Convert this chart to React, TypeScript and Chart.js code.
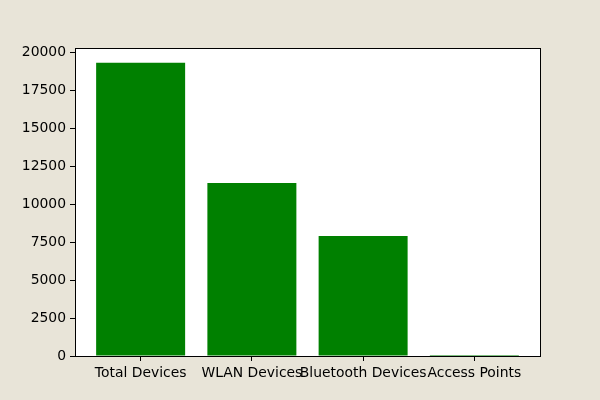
import React, { useEffect, useRef } from "react";
import { Chart, registerables } from "chart.js";

Chart.register(...registerables);

const categories = ["Total Devices", "WLAN Devices", "Bluetooth Devices", "Access Points"];
const counts = [19340, 11400, 7910, 60];
const yTicks = [0, 2500, 5000, 7500, 10000, 12500, 15000, 17500, 20000];

const frame = {
  id: "frame",
  afterDraw(chart: any) {
    const { ctx, chartArea } = chart;
    ctx.save();
    ctx.strokeStyle = "#000";
    ctx.lineWidth = 1;
    ctx.strokeRect(
      Math.round(chartArea.left) + 0.5,
      Math.round(chartArea.top) + 0.5,
      Math.round(chartArea.right - chartArea.left),
      Math.round(chartArea.bottom - chartArea.top)
    );
    ctx.restore();
  },
};

const plotBg = {
  id: "plotBg",
  beforeDraw(chart: any) {
    const { ctx, chartArea } = chart;
    ctx.save();
    ctx.fillStyle = "#e8e4d8";
    ctx.fillRect(0, 0, chart.width, chart.height);
    ctx.fillStyle = "#ffffff";
    ctx.fillRect(chartArea.left, chartArea.top, chartArea.right - chartArea.left, chartArea.bottom - chartArea.top);
    ctx.restore();
  },
};

export default function App() {
  const ref = useRef<HTMLCanvasElement | null>(null);
  useEffect(() => {
    document.body.style.margin = "0";
    document.body.style.background = "#e8e4d8";
    const maxV = Math.max(...counts);
    const font = { family: "DejaVu Sans", size: 13.9 };
    const chart = new Chart(ref.current!, {
      type: "bar",
      data: {
        datasets: [
          {
            data: counts.map((v, i) => ({ x: i, y: v })),
            backgroundColor: "#008000",
            borderWidth: 0,
            categoryPercentage: 1,
            barPercentage: 0.8,
          },
        ],
      },
      options: {
        animation: false,
        responsive: false,
        layout: { padding: { left: 0, top: 48, right: 60, bottom: 0 } },
        plugins: { legend: { display: false }, tooltip: { enabled: false } },
        scales: {
          x: {
            type: "linear",
            offset: false,
            min: -0.59,
            max: categories.length - 1 + 0.59,
            afterBuildTicks: (axis: any) => {
              axis.ticks = categories.map((_, i) => ({ value: i }));
            },
            afterFit: (axis: any) => {
              axis.height = 44;
            },
            grid: { offset: false, drawOnChartArea: false, drawTicks: true, tickLength: 5, color: "#000" },
            border: { display: true, color: "#000" },
            ticks: {
              autoSkip: false,
              maxRotation: 0,
              padding: 4,
              color: "#000",
              font,
              callback: (v: any) => categories[v] ?? "",
            },
          },
          y: {
            type: "linear",
            min: 0,
            max: maxV * 1.05,
            afterBuildTicks: (axis: any) => {
              axis.ticks = yTicks.map((v) => ({ value: v }));
            },
            afterFit: (axis: any) => {
              axis.width = 75;
            },
            grid: { drawOnChartArea: false, drawTicks: true, tickLength: 5, color: "#000" },
            border: { display: true, color: "#000" },
            ticks: { padding: 4, color: "#000", font, callback: (v: any) => String(v) },
          },
        },
      },
      plugins: [plotBg, frame],
    });
    return () => chart.destroy();
  }, []);
  return <canvas ref={ref} width={600} height={400} style={{ display: "block" }} />;
}
